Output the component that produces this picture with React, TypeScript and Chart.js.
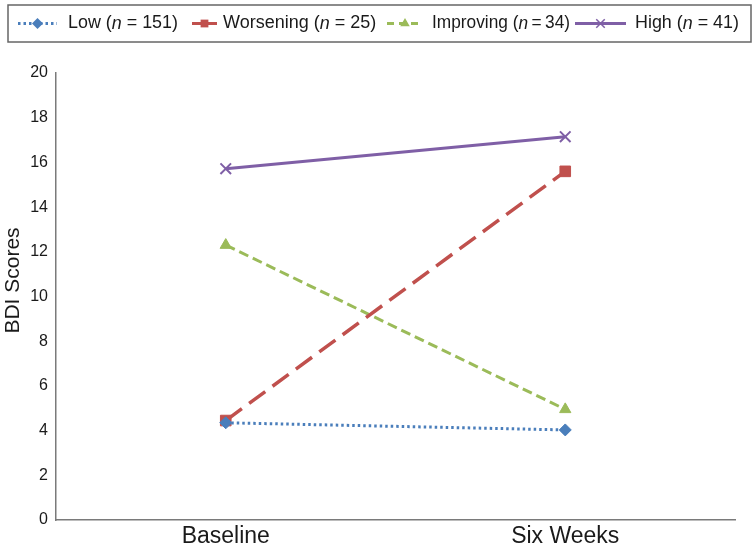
import React, { useEffect, useRef } from "react";
import { Chart, registerables } from "chart.js";

Chart.register(...registerables);

// ---- Data ----
const categories = ["Baseline", "Six Weeks"];
const lowValues = [4.35, 4.03];
const worseningValues = [4.45, 15.6];
const improvingValues = [12.3, 4.95];
const highValues = [15.72, 17.15];
const seriesNames = ["Low", "Worsening", "Improving", "High"];
const seriesN = [151, 25, 34, 41];
const yMin = 0;
const yMax = 20;
const yStep = 2;
const yTitle = "BDI Scores";

const FONT = "'Liberation Sans', Arial, Helvetica, sans-serif";
const colors = ["#4A7EBB", "#C0504D", "#9BBB59", "#7F5FA6"];
const dashes: number[][] = [[2.5, 3], [20, 9], [10, 5], []];
const pointStyles = ["rectRot", "rect", "triangle", "crossRot"];

// legend layout (sample start, sample end, text start, max text width)
const legendLayout = [
  { s0: 18, s1: 57, t: 68, w: 110, dash: [2.5, 3], eq: " = " },
  { s0: 192, s1: 217, t: 223, w: 154, dash: [], eq: " = " },
  { s0: 387, s1: 423, t: 432, w: 138, dash: [7, 5], eq: "\u2009=\u2009" },
  { s0: 575, s1: 626, t: 635, w: 104, dash: [], eq: " = " },
];

function drawMarker(ctx: CanvasRenderingContext2D, style: string, x: number, y: number, r: number, color: string) {
  ctx.save();
  ctx.setLineDash([]);
  ctx.fillStyle = color;
  ctx.strokeStyle = color;
  ctx.beginPath();
  if (style === "rectRot") {
    ctx.moveTo(x, y - r);
    ctx.lineTo(x + r, y);
    ctx.lineTo(x, y + r);
    ctx.lineTo(x - r, y);
    ctx.closePath();
    ctx.fill();
  } else if (style === "rect") {
    const s = r * Math.SQRT1_2;
    ctx.rect(x - s, y - s, 2 * s, 2 * s);
    ctx.fill();
  } else if (style === "triangle") {
    for (let i = 0; i < 3; i++) {
      const a = (i * 2 * Math.PI) / 3;
      const px = x + Math.sin(a) * r;
      const py = y - Math.cos(a) * r;
      if (i === 0) ctx.moveTo(px, py);
      else ctx.lineTo(px, py);
    }
    ctx.closePath();
    ctx.fill();
  } else if (style === "crossRot") {
    const d = r * Math.SQRT1_2;
    ctx.lineWidth = 1.5;
    ctx.moveTo(x - d, y - d);
    ctx.lineTo(x + d, y + d);
    ctx.moveTo(x + d, y - d);
    ctx.lineTo(x - d, y + d);
    ctx.stroke();
  }
  ctx.restore();
}

const boxLegendPlugin = {
  id: "boxLegend",
  afterDraw(chart: any) {
    const ctx: CanvasRenderingContext2D = chart.ctx;
    ctx.save();
    // border box
    const bx = 8, by = 5, bw = 743, bh = 37;
    ctx.strokeStyle = "#666";
    ctx.lineWidth = 1.5;
    ctx.strokeRect(bx, by, bw, bh);

    const fontN = `18px ${FONT}`;
    const fontI = `italic 18px ${FONT}`;
    const cy = by + bh / 2;
    seriesNames.forEach((name, i) => {
      const L = legendLayout[i];
      ctx.save();
      ctx.strokeStyle = colors[i];
      ctx.lineWidth = 3;
      ctx.setLineDash(L.dash);
      ctx.beginPath();
      ctx.moveTo(L.s0, cy);
      ctx.lineTo(L.s1, cy);
      ctx.stroke();
      ctx.restore();
      drawMarker(ctx, pointStyles[i], (L.s0 + L.s1) / 2, cy, i === 3 ? 6 : 5.5, colors[i]);
      const parts = [
        { t: `${name} (`, f: fontN },
        { t: "n", f: fontI },
        { t: `${L.eq}${seriesN[i]})`, f: fontN },
      ];
      let total = 0;
      const widths = parts.map((p) => {
        ctx.font = p.f;
        const m = ctx.measureText(p.t).width;
        total += m;
        return m;
      });
      const k = Math.min(1, L.w / total);
      ctx.save();
      ctx.translate(L.t, cy);
      ctx.scale(k, 1);
      let x = 0;
      ctx.fillStyle = "#1a1a1a";
      ctx.textBaseline = "middle";
      ctx.textAlign = "left";
      parts.forEach((p, j) => {
        ctx.font = p.f;
        ctx.fillText(p.t, x, 0);
        x += widths[j];
      });
      ctx.restore();
    });

    // y axis title
    const ya = chart.scales.y;
    ctx.save();
    ctx.translate(13, (ya.top + ya.bottom) / 2 - 16);
    ctx.rotate(-Math.PI / 2);
    ctx.font = `21px ${FONT}`;
    ctx.fillStyle = "#1a1a1a";
    ctx.textAlign = "center";
    ctx.textBaseline = "middle";
    ctx.fillText(yTitle, 0, 0);
    ctx.restore();

    ctx.restore();
  },
};

export default function App() {
  const ref = useRef<HTMLCanvasElement>(null);
  useEffect(() => {
    if (!ref.current) return;
    const series = [lowValues, worseningValues, improvingValues, highValues];
    const chart = new Chart(ref.current, {
      type: "line",
      data: {
        labels: categories,
        datasets: series.map((vals, i) => ({
          label: `${seriesNames[i]} (n = ${seriesN[i]})`,
          data: vals,
          borderColor: colors[i],
          backgroundColor: colors[i],
          borderWidth: i === 1 ? 3.5 : 3,
          borderDash: dashes[i],
          pointStyle: pointStyles[i] as any,
          pointRadius: i === 1 ? 7.5 : i === 2 ? 6.5 : i === 3 ? 7.5 : 6,
          pointBorderWidth: i === 3 ? 2 : 1,
          pointBorderColor: colors[i],
          pointBackgroundColor: colors[i],
          fill: false,
          tension: 0,
        })),
      },
      options: {
        animation: false,
        responsive: false,
        devicePixelRatio: 1,
        layout: { padding: { top: 73, right: 21, left: 0, bottom: 0 } },
        plugins: {
          legend: { display: false },
          tooltip: { enabled: false },
        },
        scales: {
          x: {
            offset: true,
            grid: { display: false, drawTicks: false },
            border: { display: true, color: "#7a7a7a", width: 1.5 },
            ticks: {
              color: "#1a1a1a",
              font: { family: FONT, size: 23 },
              padding: 3,
            },
            afterFit: (s: any) => {
              s.height = 31;
            },
          },
          y: {
            min: yMin,
            max: yMax,
            grid: { display: false, drawTicks: false },
            border: { display: true, color: "#7a7a7a", width: 1.5 },
            ticks: {
              stepSize: yStep,
              color: "#1a1a1a",
              font: { family: FONT, size: 16 },
              padding: 8,
            },
            afterFit: (s: any) => {
              s.width = 56;
            },
          },
        },
      },
      plugins: [boxLegendPlugin],
    });
    return () => chart.destroy();
  }, []);
  return (
    <div style={{ position: "fixed", left: 0, top: 0, width: 756, height: 551, background: "#fff" }}>
      <canvas ref={ref} width={756} height={551} />
    </div>
  );
}
